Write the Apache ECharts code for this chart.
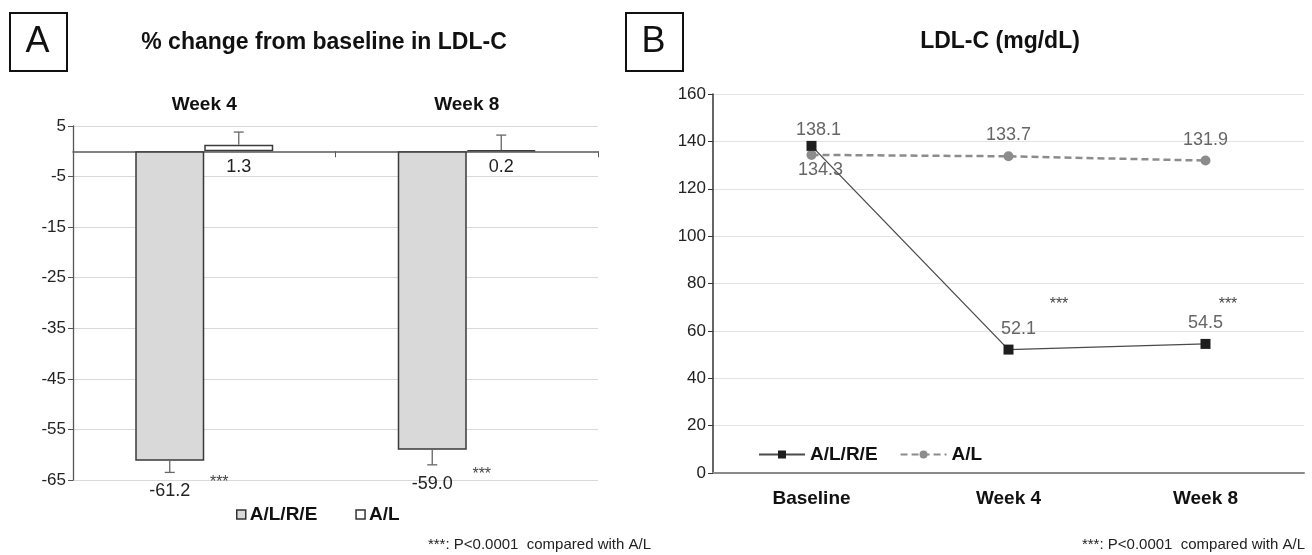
<!DOCTYPE html>
<html>
<head>
<meta charset="utf-8">
<script src="https://cdn.jsdelivr.net/npm/echarts@6/dist/echarts.min.js"></script>
<style>
html,body{margin:0;padding:0;background:#fff;}
#chart{width:1312px;height:555px;}
</style>
</head>
<body>
<div id="chart"></div>
<script>
// ---------- Data ----------
const categoriesA = ['Week 4', 'Week 8'];
const seriesNames = ['A/L/R/E', 'A/L'];
const pctChangeALRE = [-61.2, -59.0];
const pctChangeAL = [1.3, 0.2];
const errALRE = [2.3, 3.0];
const errAL = [2.5, 3.0];
const yTicksA = [5, -5, -15, -25, -35, -45, -55, -65];

const categoriesB = ['Baseline', 'Week 4', 'Week 8'];
const ldlALRE = [138.1, 52.1, 54.5];
const ldlAL = [134.3, 133.7, 131.9];

// ---------- Styles ----------
const FONT = '"Liberation Sans", Arial, sans-serif';
const BAR_W = 69;

const chart = echarts.init(document.getElementById('chart'), null, {renderer: 'canvas'});

function errorSeries(values, errs, side, withLabels) {
  return {
    type: 'custom',
    xAxisIndex: 0,
    yAxisIndex: 0,
    silent: true,
    z: 5,
    data: values.map((v, i) => [i, v, errs[i]]),
    renderItem: function (params, api) {
      const c = api.value(0), v = api.value(1), e = api.value(2);
      const sign = v < 0 ? -1 : 1;
      const p0 = api.coord([c, v]);
      const p1 = api.coord([c, v + sign * e]);
      const x = p0[0] + side * BAR_W / 2;
      const children = [
        {type: 'line', shape: {x1: x, y1: p0[1], x2: x, y2: p1[1]}, style: {stroke: '#666', lineWidth: 1.3}},
        {type: 'line', shape: {x1: x - 5, y1: p1[1], x2: x + 5, y2: p1[1]}, style: {stroke: '#666', lineWidth: 1.3}}
      ];
      if (withLabels) {
        children.push({type: 'text', style: {text: v.toFixed(1), x: x, y: p1[1] + 19,
          fill: '#222', font: '18px ' + FONT, align: 'center', verticalAlign: 'middle'}});
        children.push({type: 'text', style: {text: '***', x: x + BAR_W / 2 + 15, y: p1[1] + 10,
          fill: '#444', font: '16px ' + FONT, align: 'center', verticalAlign: 'middle'}});
      }
      return {type: 'group', children: children};
    }
  };
}

const option = {
  animation: false,
  backgroundColor: '#fff',
  textStyle: {fontFamily: FONT},
  grid: [
    {left: 73, right: 714, top: 126, bottom: 75},
    {left: 713, right: 8, top: 94, bottom: 82}
  ],
  legend: [
    {
      data: seriesNames,
      left: 231, top: 500,
      icon: 'rect', itemWidth: 9, itemHeight: 9, itemGap: 38,
      textStyle: {fontFamily: FONT, fontSize: 19, fontWeight: 'bold', color: '#111', padding: [0, 0, 0, -1]},
      itemStyle: {borderColor: '#333', borderWidth: 1.5}
    },
    {
      data: seriesNames.map(n => 'B ' + n),
      formatter: n => n.replace(/^B /, ''),
      left: 753, top: 440,
      itemWidth: 46, itemHeight: 10, itemGap: 22,
      textStyle: {fontFamily: FONT, fontSize: 19, fontWeight: 'bold', color: '#111', padding: [0, 0, 0, 0]}
    }
  ],
  xAxis: [
    {
      gridIndex: 0, type: 'category', data: categoriesA, position: 'top',
      axisLine: {show: false, onZero: false}, axisTick: {show: false},
      axisLabel: {fontFamily: FONT, fontSize: 19, fontWeight: 'bold', color: '#111', margin: 12}
    },
    {
      gridIndex: 0, type: 'category', data: categoriesA, position: 'bottom',
      axisLine: {onZero: true, onZeroAxisIndex: 0, lineStyle: {color: '#595959', width: 1.5}},
      axisTick: {show: true, length: 6, lineStyle: {color: '#595959'}},
      axisLabel: {show: false}
    },
    {
      gridIndex: 1, type: 'category', data: categoriesB,
      axisLine: {lineStyle: {color: '#8a8a8a', width: 2}},
      axisTick: {show: false},
      axisLabel: {fontFamily: FONT, fontSize: 19, fontWeight: 'bold', color: '#111', margin: 16}
    }
  ],
  yAxis: [
    {
      gridIndex: 0, type: 'value', min: -65, max: 5,
      axisLine: {show: true, lineStyle: {color: '#555', width: 1.3}},
      axisTick: {show: true, length: 5, customValues: yTicksA, lineStyle: {color: '#555'}},
      axisLabel: {customValues: yTicksA, fontFamily: FONT, fontSize: 17, color: '#222', margin: 7},
      splitLine: {show: true, lineStyle: {color: '#d9d9d9', width: 1.2}}
    },
    {
      gridIndex: 1, type: 'value', min: 0, max: 160, interval: 20,
      axisLine: {show: true, lineStyle: {color: '#333', width: 1.5}},
      axisTick: {show: true, length: 5, lineStyle: {color: '#333'}},
      axisLabel: {fontFamily: FONT, fontSize: 17, color: '#222', margin: 7},
      splitLine: {show: true, lineStyle: {color: '#e3e3e3', width: 1.2}}
    }
  ],
  series: [
    {
      name: seriesNames[0], type: 'bar', xAxisIndex: 0, yAxisIndex: 0,
      data: pctChangeALRE, barWidth: BAR_W, barGap: '0%',
      itemStyle: {color: '#d9d9d9', borderColor: '#3a3a3a', borderWidth: 1.5}
    },
    {
      name: seriesNames[1], type: 'bar', xAxisIndex: 0, yAxisIndex: 0,
      data: pctChangeAL, barWidth: BAR_W, barGap: '0%',
      itemStyle: {color: '#ffffff', borderColor: '#3a3a3a', borderWidth: 1.5},
      label: {show: true, position: 'bottom', distance: 7, formatter: p => p.value.toFixed(1),
        fontFamily: FONT, fontSize: 18, color: '#222'}
    },
    errorSeries(pctChangeALRE, errALRE, -1, true),
    errorSeries(pctChangeAL, errAL, 1, false),
    {
      name: 'B ' + seriesNames[1], type: 'line', xAxisIndex: 2, yAxisIndex: 1,
      data: ldlAL.map((v, i) => ({
        value: v,
        label: i === 0 ? {position: 'bottom', distance: 1, offset: [9, 0]} : {position: 'top', distance: 7}
      })),
      symbol: 'circle', symbolSize: 10,
      lineStyle: {color: '#8c8c8c', width: 2.5, type: [7, 4]},
      itemStyle: {color: '#8c8c8c'},
      label: {show: true, formatter: p => p.value.toFixed(1), fontFamily: FONT, fontSize: 18, color: '#666'},
      z: 3
    },
    {
      name: 'B ' + seriesNames[0], type: 'line', xAxisIndex: 2, yAxisIndex: 1,
      data: ldlALRE.map((v, i) => ({
        value: v,
        label: i === 0 ? {distance: 2, offset: [7, 0]} : (i === 1 ? {offset: [10, 0]} : {})
      })),
      symbol: 'rect', symbolSize: 10,
      lineStyle: {color: '#4a4a4a', width: 1.3},
      itemStyle: {color: '#1e1e1e'},
      label: {show: true, position: 'top', distance: 7, formatter: p => p.value.toFixed(1),
        fontFamily: FONT, fontSize: 18, color: '#666'},
      z: 4
    }
  ],
  graphic: [
    {type: 'rect', left: 9, top: 12, shape: {width: 57, height: 58}, style: {fill: '#fff', stroke: '#111', lineWidth: 2}},
    {type: 'text', x: 37.5, y: 42, style: {text: 'A', font: '36px ' + FONT, fill: '#111', align: 'center', verticalAlign: 'middle'}},
    {type: 'rect', left: 625, top: 12, shape: {width: 57, height: 58}, style: {fill: '#fff', stroke: '#111', lineWidth: 2}},
    {type: 'text', x: 653.5, y: 42, style: {text: 'B', font: '36px ' + FONT, fill: '#111', align: 'center', verticalAlign: 'middle'}},
    {type: 'text', x: 324, y: 43, style: {text: '% change from baseline in LDL-C', font: 'bold 23px ' + FONT, fill: '#111', align: 'center', verticalAlign: 'middle'}},
    {type: 'text', x: 1000, y: 42, style: {text: 'LDL-C (mg/dL)', font: 'bold 23px ' + FONT, fill: '#111', align: 'center', verticalAlign: 'middle'}},
    {type: 'text', x: 651, y: 545, style: {text: '***: P<0.0001  compared with A/L', font: '15px ' + FONT, fill: '#222', align: 'right', verticalAlign: 'middle'}},
    {type: 'text', x: 1305, y: 545, style: {text: '***: P<0.0001  compared with A/L', font: '15px ' + FONT, fill: '#222', align: 'right', verticalAlign: 'middle'}},
    {type: 'text', x: 1059, y: 305, style: {text: '***', font: '16px ' + FONT, fill: '#444', align: 'center', verticalAlign: 'middle'}},
    {type: 'text', x: 1228, y: 305, style: {text: '***', font: '16px ' + FONT, fill: '#444', align: 'center', verticalAlign: 'middle'}}
  ]
};

chart.setOption(option);
</script>
</body>
</html>
